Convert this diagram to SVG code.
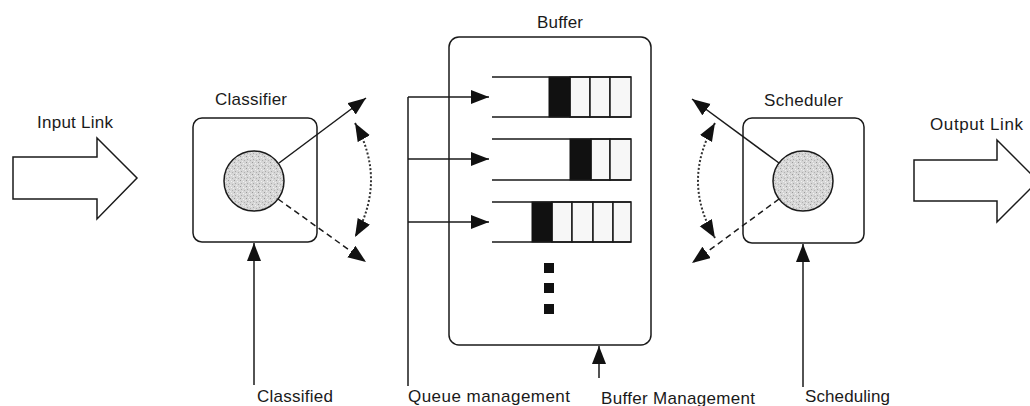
<svg xmlns="http://www.w3.org/2000/svg" width="1030" height="406" viewBox="0 0 1030 406">
<style>
  .ln{fill:none;stroke:#1a1a1a;stroke-width:1.5}
  .box{fill:#fff;stroke:#1a1a1a;stroke-width:1.5}
  .arr{fill:none;stroke:#1a1a1a;stroke-width:1.5;marker-end:url(#ah)}
  .dash{fill:none;stroke:#1a1a1a;stroke-width:1.5;stroke-dasharray:6 4;marker-end:url(#ah)}
  .dot{fill:none;stroke:#333;stroke-width:2;stroke-dasharray:2 2;marker-start:url(#ahs);marker-end:url(#ah)}
  .cell{fill:#f7f7f7;stroke:#1a1a1a;stroke-width:1.5}
  .blk{fill:#111;stroke:#111;stroke-width:1}
  .t{font-family:"Liberation Sans",Arial,sans-serif;font-size:17px;fill:#1a1a1a}
</style>
<defs>
  <marker id="ah" markerUnits="userSpaceOnUse" markerWidth="20" markerHeight="16" refX="18" refY="7" orient="auto">
    <path d="M0,0 L18,7 L0,14 Z" fill="#111"/>
  </marker>
  <marker id="ahs" markerUnits="userSpaceOnUse" markerWidth="20" markerHeight="16" refX="18" refY="7" orient="auto-start-reverse">
    <path d="M0,0 L18,7 L0,14 Z" fill="#111"/>
  </marker>
  <pattern id="stip" width="6" height="6" patternUnits="userSpaceOnUse">
    <rect width="6" height="6" fill="#d6d6d6"/>
    <rect x="0" y="0" width="1" height="1" fill="#9a9a9a"/>
    <rect x="3" y="1" width="1" height="1" fill="#f2f2f2"/>
    <rect x="1" y="3" width="1" height="1" fill="#a8a8a8"/>
    <rect x="4" y="4" width="1" height="1" fill="#b0b0b0"/>
    <rect x="5" y="2" width="1" height="1" fill="#eeeeee"/>
    <rect x="2" y="5" width="1" height="1" fill="#ececec"/>
  </pattern>
</defs>
<rect width="1030" height="406" fill="#fff"/>

<g id="input-link">
  <polygon class="box" points="13,157 97,157 97,138 137,178 97,219 97,199 13,199"/>
  <text class="t" x="37" y="128" textLength="76">Input Link</text>
</g>

<g id="classifier">
  <text class="t" x="215" y="105" textLength="72">Classifier</text>
  <rect class="box" x="193" y="118" width="124" height="124" rx="9"/>
  <circle cx="254" cy="181" r="30" fill="url(#stip)" stroke="#1a1a1a" stroke-width="1.5"/>
</g>

<g id="buffer">
  <text class="t" x="537" y="28" textLength="46">Buffer</text>
  <rect class="box" x="449" y="37" width="202" height="308" rx="10"/>
  <g id="queue1">
    <rect class="cell" x="570" y="77" width="20" height="40"/>
    <rect class="cell" x="590" y="77" width="20" height="40"/>
    <rect class="cell" x="610" y="77" width="21" height="40"/>
    <rect class="blk" x="549" y="77" width="21" height="40"/>
    <path class="ln" d="M492,77 H631 M492,117 H631"/>
  </g>
  <g id="queue2">
    <rect class="cell" x="591" y="139" width="19" height="41"/>
    <rect class="cell" x="610" y="139" width="21" height="41"/>
    <rect class="blk" x="570" y="139" width="21" height="41"/>
    <path class="ln" d="M492,139 H631 M492,180 H631"/>
  </g>
  <g id="queue3">
    <rect class="cell" x="552" y="202" width="20" height="40"/>
    <rect class="cell" x="572" y="202" width="21" height="40"/>
    <rect class="cell" x="593" y="202" width="20" height="40"/>
    <rect class="cell" x="613" y="202" width="18" height="40"/>
    <rect class="blk" x="532" y="202" width="20" height="40"/>
    <path class="ln" d="M492,202 H631 M492,242 H631"/>
  </g>
  <rect x="544" y="263" width="10" height="10" fill="#111"/>
  <rect x="544" y="283" width="10" height="10" fill="#111"/>
  <rect x="544" y="304" width="10" height="10" fill="#111"/>
</g>

<g id="scheduler">
  <text class="t" x="764" y="106" textLength="79">Scheduler</text>
  <rect class="box" x="743" y="118" width="121" height="125" rx="9"/>
  <circle cx="803" cy="181" r="30" fill="url(#stip)" stroke="#1a1a1a" stroke-width="1.5"/>
</g>

<g id="output-link">
  <polygon class="box" points="914,160 997,160 997,140 1038,181 997,222 997,201 914,201"/>
  <text class="t" x="930" y="130" textLength="93">Output Link</text>
</g>

<g id="connectors">
  <line class="arr" x1="279" y1="163" x2="366" y2="98"/>
  <line class="dash" x1="278" y1="199" x2="366" y2="262"/>
  <path class="dot" d="M355,123 Q387,180 355,237"/>

  <line class="arr" x1="779" y1="163" x2="692" y2="99"/>
  <line class="dash" x1="779" y1="199" x2="692" y2="263"/>
  <path class="dot" d="M715,123 Q681,181 715,238"/>

  <line class="arr" x1="254" y1="385" x2="254" y2="243"/>
  <line class="arr" x1="803" y1="387" x2="803" y2="244"/>
  <line class="arr" x1="599" y1="378" x2="599" y2="346"/>

  <path class="ln" d="M408,386 V97"/>
  <line class="arr" x1="408" y1="97" x2="489" y2="97"/>
  <line class="arr" x1="408" y1="159" x2="489" y2="159"/>
  <line class="arr" x1="408" y1="222" x2="489" y2="222"/>

  <text class="t" x="257" y="402" textLength="76">Classified</text>
  <text class="t" x="408" y="402" textLength="162">Queue management</text>
  <text class="t" x="601" y="404" textLength="154">Buffer Management</text>
  <text class="t" x="805" y="402" textLength="85">Scheduling</text>
</g>
</svg>
